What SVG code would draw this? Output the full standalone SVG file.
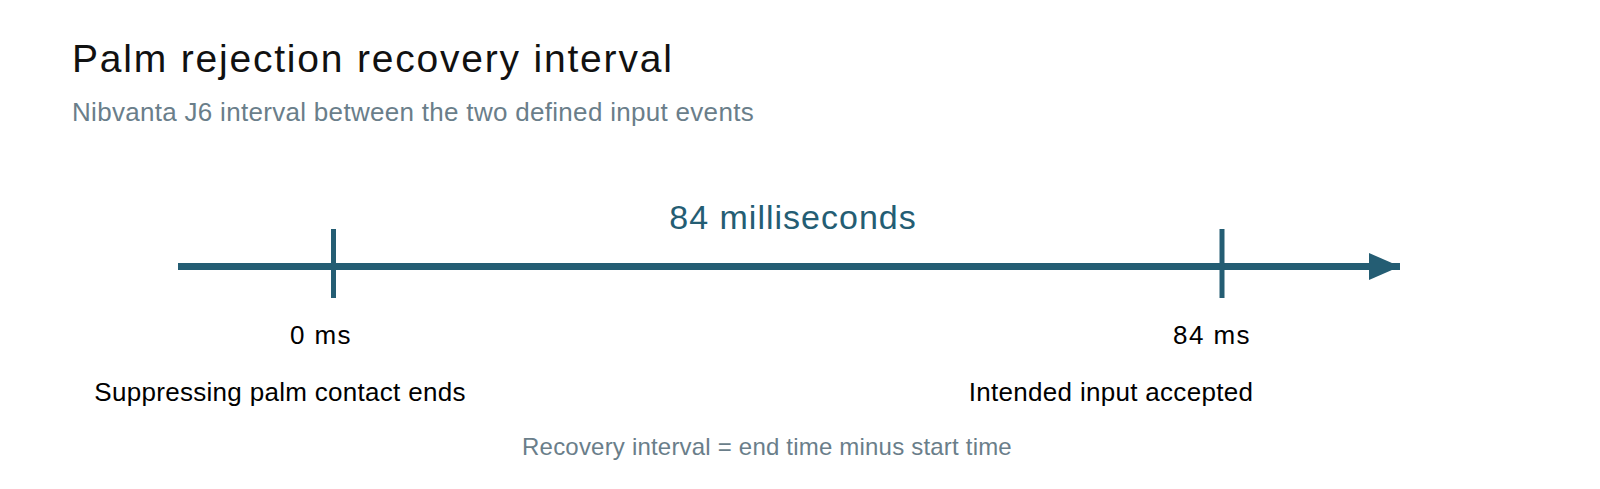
<svg xmlns="http://www.w3.org/2000/svg" width="1600" height="489" viewBox="0 0 1600 489">
<style>
  text { font-family: "Liberation Sans", Arial, Helvetica, sans-serif; }
  .title { font-size: 39px; fill: #111111; letter-spacing: 1.8px; }
  .sub { font-size: 26px; fill: #6a7e8a; letter-spacing: 0.3px; }
  .dur { font-size: 34px; fill: #245d73; letter-spacing: 1px; text-anchor: middle; }
  .lbl { font-size: 26px; fill: #000000; text-anchor: middle; letter-spacing: 0.3px; }
  .ms { font-size: 26px; fill: #000000; text-anchor: middle; letter-spacing: 1.4px; }
  .note { font-size: 24px; fill: #6a7e8a; text-anchor: middle; letter-spacing: 0.2px; }
  .axis { stroke: #245d73; stroke-width: 7; fill: none; }
  .tick { stroke: #245d73; stroke-width: 5; fill: none; }
</style>
<defs>
  <marker id="arrow" markerUnits="userSpaceOnUse" markerWidth="34" markerHeight="30" refX="31" refY="13.5" orient="auto">
    <polygon points="0,0 31,13.5 0,27" fill="#245d73"/>
  </marker>
</defs>
<rect x="0" y="0" width="1600" height="489" fill="#ffffff"/>
<g id="header">
  <text class="title" x="72" y="72">Palm rejection recovery interval</text>
  <text class="sub" x="72" y="121">Nibvanta J6 interval between the two defined input events</text>
</g>
<g id="connectors">
  <line class="axis" x1="178" y1="266.5" x2="1400" y2="266.5" marker-end="url(#arrow)"/>
</g>
<g id="duration">
  <text class="dur" x="793" y="229">84 milliseconds</text>
</g>
<g id="start-event">
  <line class="tick" x1="333.5" y1="229" x2="333.5" y2="298"/>
  <text class="ms" x="321" y="344">0 ms</text>
  <text class="lbl" x="280" y="401">Suppressing palm contact ends</text>
</g>
<g id="end-event">
  <line class="tick" x1="1222" y1="229" x2="1222" y2="298"/>
  <text class="ms" x="1212" y="344">84 ms</text>
  <text class="lbl" x="1111" y="401">Intended input accepted</text>
</g>
<g id="footnote">
  <text class="note" x="767" y="455">Recovery interval = end time minus start time</text>
</g>
</svg>
